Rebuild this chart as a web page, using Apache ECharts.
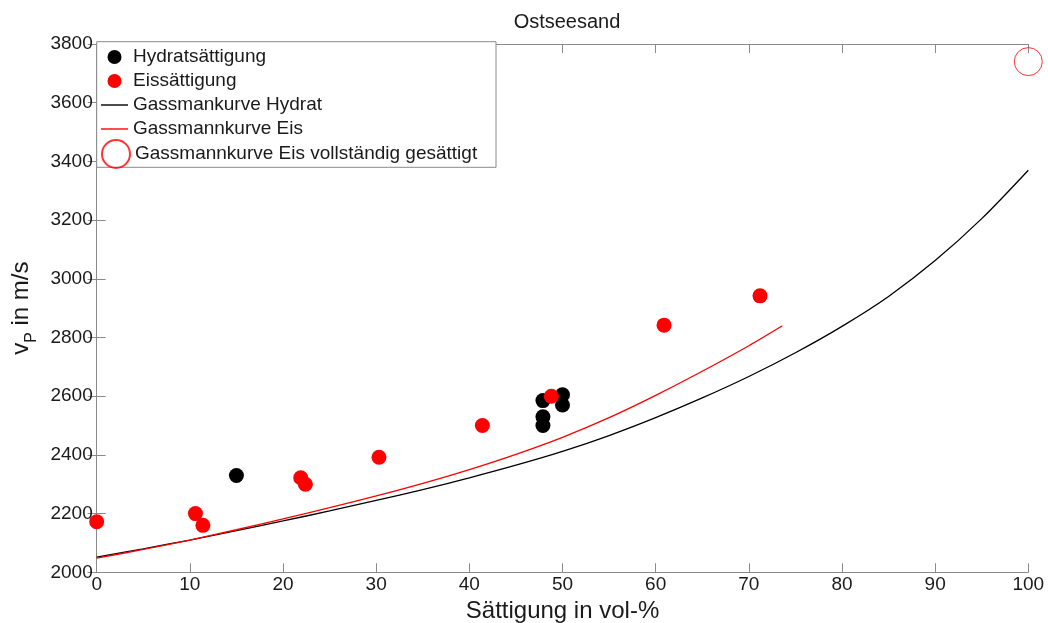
<!DOCTYPE html>
<html>
<head>
<meta charset="utf-8">
<script src="https://cdn.jsdelivr.net/npm/echarts@6/dist/echarts.min.js"></script>
<style>html,body{margin:0;padding:0;background:#fff}#c{width:1048px;height:623px}</style>
</head>
<body>
<div id="c"></div>
<script>
// ---- data ----
const hydratX = [15, 47.9, 47.9, 47.9, 50, 50];
const hydratY = [2330, 2500, 2530, 2585, 2605, 2570];
const eisX = [0, 10.6, 11.4, 21.9, 22.4, 30.3, 41.4, 48.8, 60.9, 71.2];
const eisY = [2172, 2200, 2160, 2322, 2300, 2392, 2500, 2600, 2842, 2942];
const curveHydratX = [0, 5, 10, 15, 20, 25, 30, 35, 40, 45, 50, 55, 60, 65, 70, 75, 80, 85, 90, 95, 100];
const curveHydratY = [2052, 2080, 2110, 2142, 2175, 2209, 2245, 2282, 2322, 2365, 2412, 2466, 2527, 2594, 2667, 2748, 2838, 2940, 3062, 3205, 3370];
const curveEisX = [0, 5, 10, 15, 20, 25, 30, 35, 40, 45, 50, 55, 60, 65, 70, 73.6];
const curveEisY = [2048, 2078, 2110, 2145, 2182, 2220, 2260, 2303, 2350, 2402, 2460, 2527, 2603, 2685, 2772, 2840];
const fullX = [100];
const fullY = [3740];
const xTicks = {min: 0, max: 100, step: 10};
const yTicks = {min: 2000, max: 3800, step: 200};
const names = ['Hydratsättigung', 'Eissättigung', 'Gassmankurve Hydrat', 'Gassmannkurve Eis', 'Gassmannkurve Eis vollständig gesättigt'];

const zip = (a, b) => a.map((v, i) => [v, b[i]]);
const FONT = '"Liberation Sans", Arial, sans-serif';
const TXT = '#1a1a1a';
const AX = '#8a8a8a';
const LINE_ICON = 'path://M0,0 L27,0 L27,1.4 L0,1.4 Z';

function axisCommon(showLabel) {
  return {
    axisLine: {show: true, lineStyle: {color: AX, width: 1}},
    axisTick: {show: true, inside: true, length: 9, lineStyle: {color: AX, width: 1}},
    splitLine: {show: false},
    axisLabel: {show: showLabel, color: TXT, fontSize: 19, fontFamily: FONT, formatter: v => String(v)}
  };
}

const chart = echarts.init(document.getElementById('c'), null, {renderer: 'canvas'});
chart.setOption({
  backgroundColor: '#fff',
  animation: false,
  title: {
    text: 'Ostseesand', left: 562, top: 7, textAlign: 'center',
    textStyle: {fontSize: 20, fontWeight: 'normal', color: TXT, fontFamily: FONT}
  },
  grid: {left: 96.7, right: 19.7, top: 44, bottom: 50.7, containLabel: false, outerBoundsMode: 'none'},
  xAxis: [
    Object.assign({type: 'value', position: 'bottom', min: xTicks.min, max: xTicks.max, interval: xTicks.step,
      name: 'Sättigung in vol-%', nameLocation: 'middle', nameGap: 25,
      nameTextStyle: {fontSize: 24, color: TXT, fontFamily: FONT}}, axisCommon(true),
      {axisLabel: {color: TXT, fontSize: 19, fontFamily: FONT, margin: 3, formatter: v => String(v)}}),
    Object.assign({type: 'value', position: 'top', min: xTicks.min, max: xTicks.max, interval: xTicks.step}, axisCommon(false))
  ],
  yAxis: [
    Object.assign({type: 'value', position: 'left', min: yTicks.min, max: yTicks.max, interval: yTicks.step,
      name: '{a|v}{s|P}{a| in m/s}', nameLocation: 'middle', nameGap: 48,
      nameTextStyle: {color: TXT, fontFamily: FONT,
        rich: {
          a: {fontSize: 24, lineHeight: 24, verticalAlign: 'top', color: TXT, fontFamily: FONT},
          s: {fontSize: 16, lineHeight: 16, padding: [14, 0, 0, 0], verticalAlign: 'top', color: TXT, fontFamily: FONT}
        }}}, axisCommon(true),
      {axisLabel: {color: TXT, fontSize: 19, fontFamily: FONT, margin: 4, formatter: v => String(v)}}),
    Object.assign({type: 'value', position: 'right', min: yTicks.min, max: yTicks.max, interval: yTicks.step}, axisCommon(false))
  ],
  graphic: [{
    type: 'rect', z: 3, silent: true,
    shape: {x: 96.7, y: 41.7, width: 399.3, height: 125.6},
    style: {fill: '#fff', stroke: AX, lineWidth: 1}
  }],
  legend: [{
    data: [
      {name: names[0]},
      {name: names[1]},
      {name: names[2], icon: LINE_ICON, itemStyle: {color: '#000'}},
      {name: names[3], icon: LINE_ICON, itemStyle: {color: '#ff0000'}}
    ],
    orient: 'vertical', left: 101, top: 47, padding: 0,
    itemWidth: 27, itemHeight: 14, itemGap: 4, z: 5,
    textStyle: {fontSize: 19, lineHeight: 20, color: TXT, fontFamily: FONT}
  }, {
    data: [names[4]], orient: 'vertical', left: 101, top: 139, padding: 0,
    itemWidth: 28, itemHeight: 28, z: 5,
    textStyle: {fontSize: 19, lineHeight: 20, color: TXT, fontFamily: FONT}
  }],
  series: [
    {name: names[0], type: 'scatter', data: zip(hydratX, hydratY), symbol: 'circle', symbolSize: 15,
      itemStyle: {color: '#000', opacity: 1}, clip: false},
    {name: names[1], type: 'scatter', data: zip(eisX, eisY), symbol: 'circle', symbolSize: 15,
      itemStyle: {color: '#ff0000', opacity: 1}, clip: false},
    {name: names[2], type: 'line', data: zip(curveHydratX, curveHydratY), symbol: 'none', smooth: 0.3,
      lineStyle: {color: '#000', width: 1.3}, itemStyle: {color: '#000'}},
    {name: names[3], type: 'line', data: zip(curveEisX, curveEisY), symbol: 'none', smooth: 0.3,
      lineStyle: {color: '#ff0000', width: 1.3}, itemStyle: {color: '#ff0000'}},
    {name: names[4], type: 'scatter', data: zip(fullX, fullY), symbol: 'circle', symbolSize: 28,
      itemStyle: {color: 'rgba(255,255,255,0)', borderColor: '#ff0000', borderWidth: 1}, clip: false}
  ]
});
</script>
</body>
</html>
